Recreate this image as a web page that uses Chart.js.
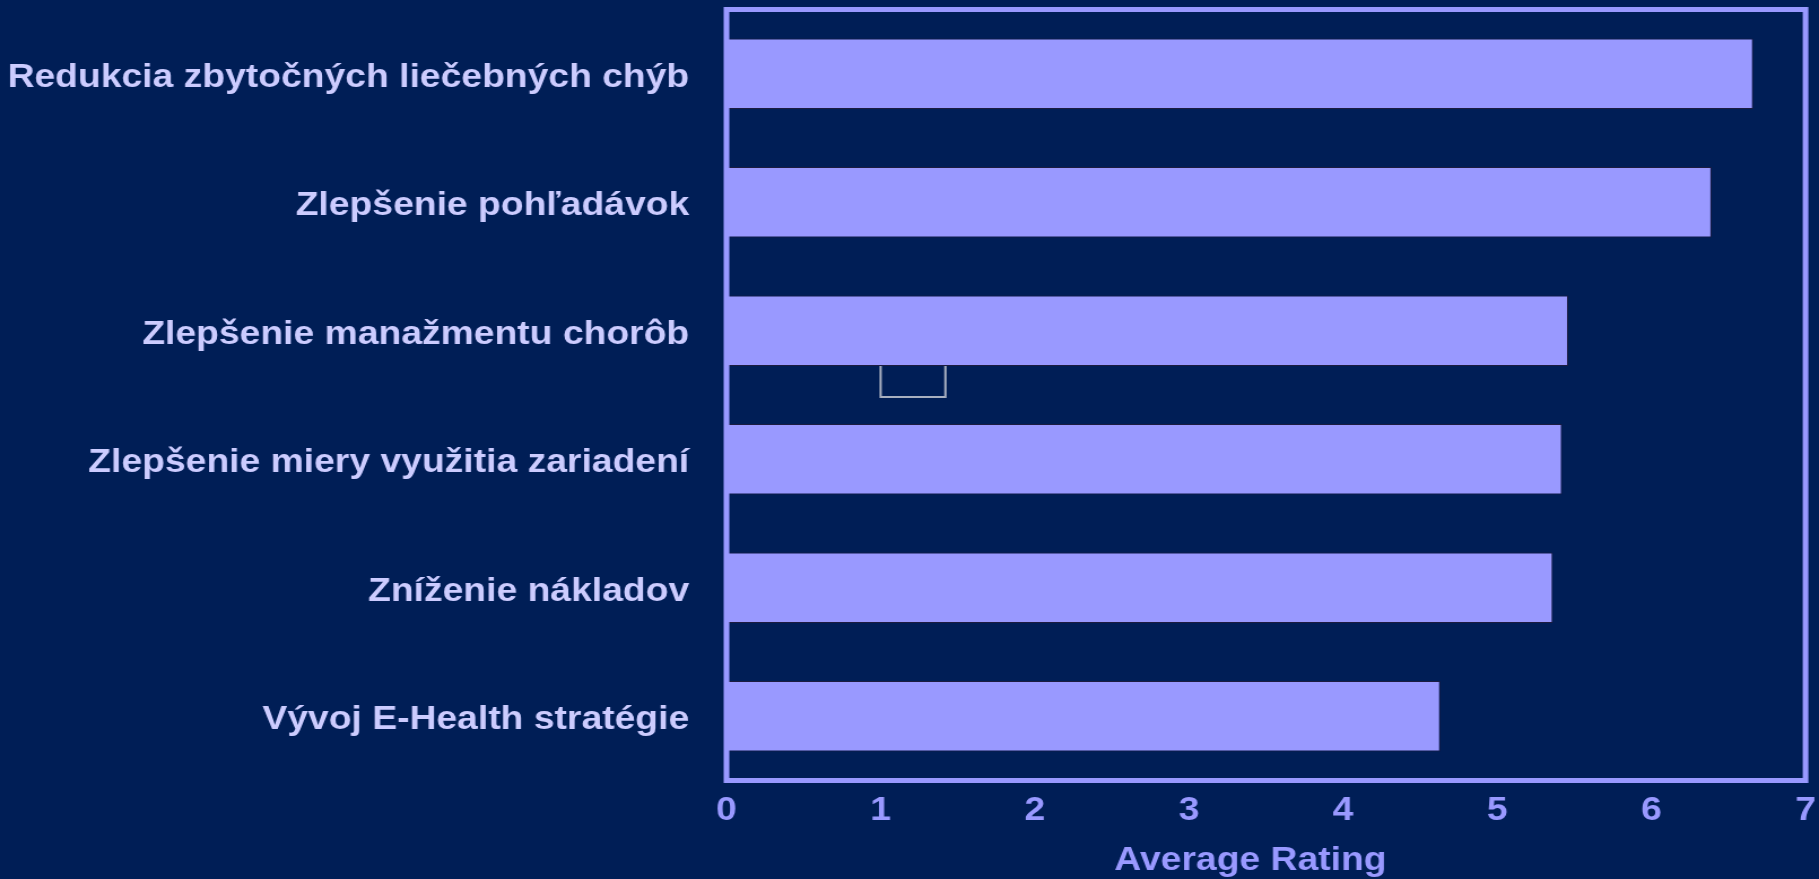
<!DOCTYPE html>
<html>
<head>
<meta charset="utf-8">
<title>Average Rating</title>
<script src="https://cdn.jsdelivr.net/npm/chart.js@4"></script>
<style>
  html, body { margin: 0; padding: 0; background: #001e56; overflow: hidden; }
  /* the source picture is stretched sideways, so the canvas is too */
  #ratingChart { display: block; width: 1819px !important; height: 879px !important; }
</style>
</head>
<body>
<canvas id="ratingChart" width="1610" height="879"></canvas>
<script>
const categories = [
  "Redukcia zbytočných liečebných chýb",
  "Zlepšenie pohľadávok",
  "Zlepšenie manažmentu chorôb",
  "Zlepšenie miery využitia zariadení",
  "Zníženie nákladov",
  "Vývoj E-Health stratégie"
];
const ratings = [6.66, 6.39, 5.46, 5.42, 5.36, 4.63];
const xTicks = [0, 1, 2, 3, 4, 5, 6, 7];

const BG = "#001e56";
const BAR = "#9999ff";
const LABEL = "#ccccff";
const FONT = "'Liberation Sans', Arial, sans-serif";

// frame around the plot area, drawn over the bar starts
const framePlugin = {
  id: "frame",
  afterDatasetsDraw(chart) {
    const { ctx, chartArea: a } = chart;
    ctx.save();
    ctx.strokeStyle = BAR;
    ctx.lineWidth = 5;
    ctx.strokeRect(a.left, a.top, a.right - a.left, a.bottom - a.top);

    // small open box under the third bar, as in the source slide
    const x = chart.scales.x;
    const bar = chart.getDatasetMeta(0).data[2];
    const y0 = bar.y + bar.height / 2;
    ctx.strokeStyle = "#a8b0c0";
    ctx.lineWidth = 2;
    ctx.beginPath();
    ctx.moveTo(x.getPixelForValue(1.0), y0);
    ctx.lineTo(x.getPixelForValue(1.0), y0 + 31);
    ctx.lineTo(x.getPixelForValue(1.42), y0 + 31);
    ctx.lineTo(x.getPixelForValue(1.42), y0);
    ctx.stroke();
    ctx.restore();
  }
};

const ctx = document.getElementById("ratingChart").getContext("2d");
const ratingChart = new Chart(ctx, {
  type: "bar",
  data: {
    labels: categories,
    datasets: [
      {
        data: ratings,
        backgroundColor: BAR,
        borderColor: "#1c1c40",
        borderWidth: 1,
        borderSkipped: false,
        categoryPercentage: 1,
        barPercentage: 0.55
      }
    ]
  },
  options: {
    indexAxis: "y",
    responsive: false,
    animation: false,
    layout: { padding: { top: 9.5, right: 11.9, left: 0, bottom: 0 } },
    plugins: {
      legend: { display: false },
      tooltip: { enabled: false }
    },
    scales: {
      x: {
        min: 0,
        max: 7,
        afterBuildTicks: (scale) => {
          scale.ticks = xTicks.map((v) => ({ value: v }));
        },
        afterFit: (scale) => {
          scale.height = 98.5;
          scale.paddingLeft = 0;
          scale.paddingRight = 0;
        },
        grid: { display: false, drawTicks: false },
        border: { display: false },
        ticks: {
          color: BAR,
          padding: 11,
          font: { family: FONT, size: 33, weight: "bold" }
        },
        title: {
          display: true,
          text: "Average Rating   ",
          color: BAR,
          padding: { top: 0, bottom: 0 },
          font: { family: FONT, size: 33, weight: "bold", lineHeight: 1.1 }
        }
      },
      y: {
        afterFit: (scale) => {
          scale.width = 643;
          scale.paddingTop = 0;
          scale.paddingBottom = 0;
        },
        grid: { display: false, drawTicks: false },
        border: { display: false },
        ticks: {
          color: LABEL,
          padding: 33,
          labelOffset: 4,
          font: { family: FONT, size: 33, weight: "bold" }
        }
      }
    }
  },
  plugins: [framePlugin]
});
</script>
</body>
</html>
